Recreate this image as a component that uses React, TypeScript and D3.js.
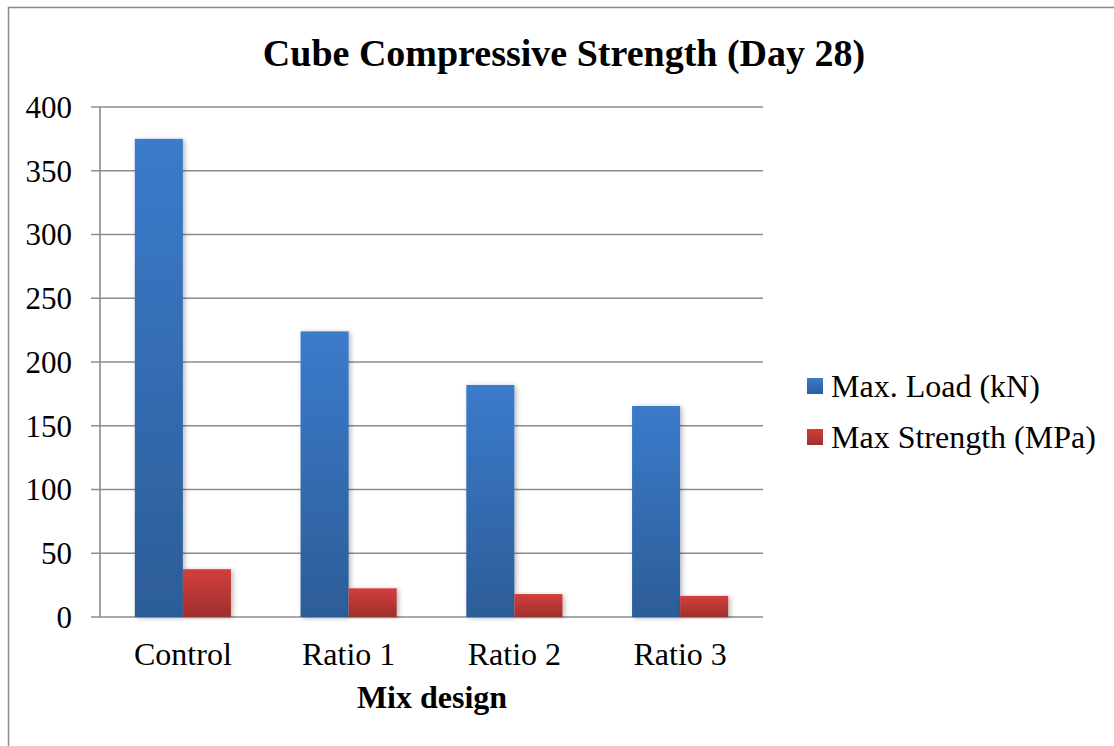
import React from "react";
import * as d3 from "d3";

const categories = ["Control", "Ratio 1", "Ratio 2", "Ratio 3"];
const seriesNames = ["Max. Load (kN)", "Max Strength (MPa)"];
const maxLoad = [375, 224, 182, 165.5];
const maxStrength = [37.5, 22.5, 18, 16.5];
const yTicks = [0, 50, 100, 150, 200, 250, 300, 350, 400];

const W = 1114;
const H = 746;
const plot = { left: 100, right: 763, top: 107, bottom: 617 };
const font = "Liberation Serif";
const grid = "#8c8c8c";

export default function App() {
  const x0 = d3
    .scaleBand<string>()
    .domain(categories)
    .range([plot.left, plot.right])
    .paddingInner(0.42)
    .paddingOuter(0.21);
  const x1 = d3.scaleBand<number>().domain([0, 1]).range([0, x0.bandwidth()]);
  const y = d3.scaleLinear().domain([0, 400]).range([plot.bottom, plot.top]);
  const series = [maxLoad, maxStrength];
  const fills = ["url(#gBlue)", "url(#gRed)"];

  return (
    <svg
      width={W}
      height={H}
      style={{ position: "absolute", left: 0, top: 0, background: "#fff", fontFamily: font }}
    >
      <defs>
        <linearGradient id="gBlue" x1="0" y1="0" x2="0" y2="1">
          <stop offset="0" stopColor="#3b7bcb" />
          <stop offset="1" stopColor="#2c5d98" />
        </linearGradient>
        <linearGradient id="gRed" x1="0" y1="0" x2="0" y2="1">
          <stop offset="0" stopColor="#d33e3c" />
          <stop offset="1" stopColor="#9e302d" />
        </linearGradient>
        <filter id="shadow" x="-20%" y="-5%" width="140%" height="110%">
          <feDropShadow dx="2" dy="1" stdDeviation="2.5" floodColor="#000" floodOpacity="0.28" />
        </filter>
      </defs>

      <rect x={8.5} y={7.5} width={1120} height={760} fill="#fff" stroke="#8a8a8a" strokeWidth={1.5} />

      <text x={564} y={66} textAnchor="middle" fontWeight="bold" fontSize={38}>
        Cube Compressive Strength (Day 28)
      </text>

      {yTicks.map((t) => (
        <g key={t}>
          <line x1={plot.left - 9} x2={plot.right} y1={y(t)} y2={y(t)} stroke={grid} strokeWidth={1.6} />
          <text x={72} y={y(t)} dy="0.35em" textAnchor="end" fontSize={31}>
            {t}
          </text>
        </g>
      ))}
      <line x1={plot.left} x2={plot.left} y1={plot.top} y2={plot.bottom} stroke={grid} strokeWidth={1.6} />

      {categories.map((c, i) => (
        <g key={c} transform={`translate(${x0(c)},0)`}>
          {series.map((s, k) => (
            <rect
              key={k}
              x={x1(k)}
              y={y(s[i])}
              width={x1.bandwidth()}
              height={y(0) - y(s[i])}
              fill={fills[k]}
              filter="url(#shadow)"
            />
          ))}
          <text x={x0.bandwidth() / 2} y={665} textAnchor="middle" fontSize={32}>
            {c}
          </text>
        </g>
      ))}

      <text x={432} y={708} textAnchor="middle" fontWeight="bold" fontSize={32}>
        Mix design
      </text>

      {seriesNames.map((n, k) => (
        <g key={n} transform={`translate(807,${386 + k * 51})`}>
          <rect x={0} y={-8} width={16} height={16} fill={fills[k]} />
          <text x={24} y={0} dy="0.35em" fontSize={32}>
            {n}
          </text>
        </g>
      ))}
    </svg>
  );
}
